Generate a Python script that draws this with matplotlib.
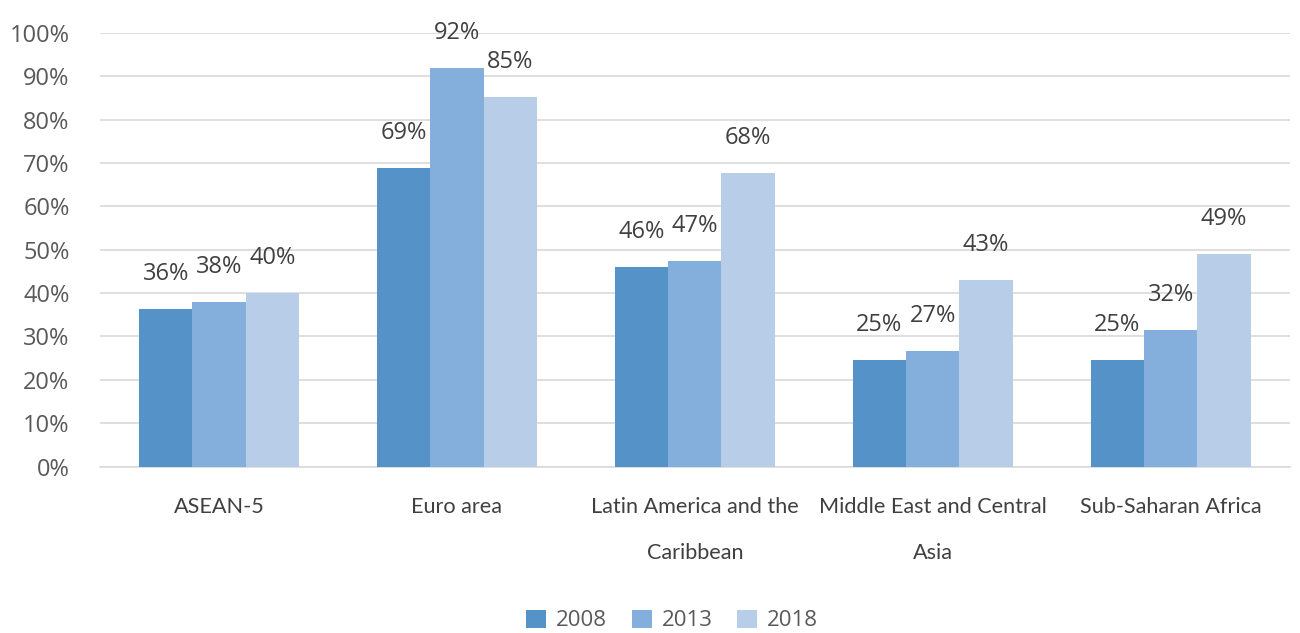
import matplotlib.pyplot as plt
import numpy as np

categories = ["ASEAN-5", "Euro area", "Latin America and the\nCaribbean",
              "Middle East and Central\nAsia", "Sub-Saharan Africa"]
years = ["2008", "2013", "2018"]
v2008 = [36.3, 68.8, 46.0, 24.6, 24.6]
v2013 = [37.9, 91.8, 47.3, 26.6, 31.5]
v2018 = [40.0, 85.3, 67.7, 43.0, 49.0]
colors = ["#5592C8", "#84AFDC", "#B7CDE8"]

plt.rcParams['font.family'] = ['Open Sans', 'DejaVu Sans']

fig = plt.figure(figsize=(13, 6.33), dpi=100)
ax = fig.add_axes([0.077, 0.263, 0.915, 0.685])

x = np.arange(len(categories))
w = 0.224
for i, (vals, yr) in enumerate(zip([v2008, v2013, v2018], years)):
    bars = ax.bar(x + (i - 1) * w, vals, w, color=colors[i], label=yr, zorder=3)
    for b, v in zip(bars, vals):
        ax.text(b.get_x() + b.get_width() / 2, v + 5.3, f"{round(v):d}%",
                ha="center", va="bottom", fontsize=17, color="#404040")

ax.set_ylim(0, 100)
ax.set_xlim(-0.5, 4.5)
ax.set_yticks(range(0, 101, 10))
ax.set_yticklabels([f"{t}%" for t in range(0, 101, 10)], fontsize=17, color="#595959")
ax.set_xticks(x)
ax.set_xticklabels(categories, fontsize=15.6, color="#404040", linespacing=2.6,
                   family=['Lato', 'DejaVu Sans'], va="top")
ax.tick_params(axis="y", length=0, pad=22)
ax.tick_params(axis="x", length=0, pad=22)
ax.grid(axis="y", color="#D9D9D9", linewidth=1.2, zorder=0)
for s in ["top", "right", "left"]:
    ax.spines[s].set_visible(False)
ax.spines["bottom"].set_color("#D9D9D9")
ax.spines["bottom"].set_linewidth(1.2)

ax.legend(loc="center", bbox_to_anchor=(0.481, -0.355), ncol=3, frameon=False,
          fontsize=16, handlelength=0.9, handleheight=0.9, columnspacing=1.1,
          handletextpad=0.45, labelcolor="#595959")

fig.savefig("out.png", dpi=100)
